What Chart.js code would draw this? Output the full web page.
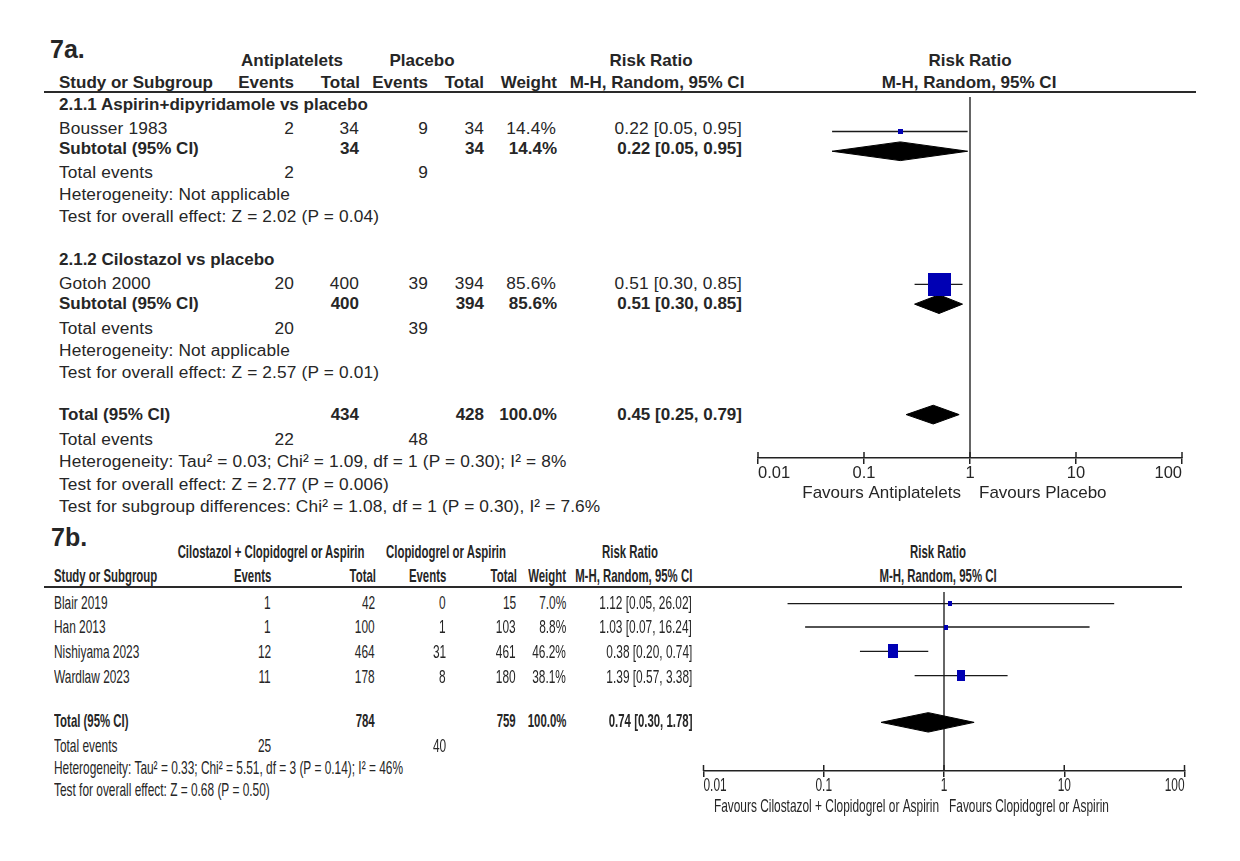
<!DOCTYPE html>
<html>
<head>
<meta charset="utf-8">
<script src="https://cdn.jsdelivr.net/npm/chart.js@4.4.0/dist/chart.umd.min.js"></script>
<style>
body { margin: 0; background: #fff; }
#page { position: relative; width: 1240px; height: 861px; overflow: hidden; font-family: 'Liberation Sans', Arial, sans-serif; color: #262626; }
#page div { position: absolute; white-space: nowrap; }
#page canvas { position: absolute; }
.rule { height: 2px; background: #2a2a2a; }
</style>
</head>
<body>
<div id="page">
  <div class="rule" style="left:44px;top:91px;width:1152px"></div>
  <div class="rule" style="left:44px;top:586px;width:1138px"></div>
  <canvas id="plotA" width="455" height="420" style="left:745px;top:92px"></canvas>
  <canvas id="plotB" width="510" height="240" style="left:690px;top:587px"></canvas>
</div>
<script>
// ---- 7a: antiplatelets vs placebo (one study per subgroup, so subtotal = study) ----
const groupNamesA = ['2.1.1 Aspirin+dipyridamole vs placebo', '2.1.2 Cilostazol vs placebo'];
const studiesA = ['Bousser 1983', 'Gotoh 2000'];
const eventsA = [2, 20];
const totalsA = [34, 400];
const placeboEventsA = [9, 39];
const placeboTotalsA = [34, 394];
const weightsA = [14.4, 85.6];
const rrA = [0.22, 0.51];
const rrLowA = [0.05, 0.30];
const rrHighA = [0.95, 0.85];
const subEffectA = ['Test for overall effect: Z = 2.02 (P = 0.04)', 'Test for overall effect: Z = 2.57 (P = 0.01)'];
const pooledA = [0.45, 0.25, 0.79];      // rr, low, high
const pooledTotalsA = [434, 428];
const pooledEventsA = [22, 48];
const statsA = [
  'Heterogeneity: Tau² = 0.03; Chi² = 1.09, df = 1 (P = 0.30); I² = 8%',
  'Test for overall effect: Z = 2.77 (P = 0.006)',
  'Test for subgroup differences: Chi² = 1.08, df = 1 (P = 0.30), I² = 7.6%'
];

// ---- 7b: cilostazol add-on ----
const studiesB = ['Blair 2019', 'Han 2013', 'Nishiyama 2023', 'Wardlaw 2023'];
const eventsB = [1, 1, 12, 11];
const totalsB = [42, 100, 464, 178];
const ctrlEventsB = [0, 1, 31, 8];
const ctrlTotalsB = [15, 103, 461, 180];
const weightsB = [7.0, 8.8, 46.2, 38.1];
const rrB = [1.12, 1.03, 0.38, 1.39];
const rrLowB = [0.05, 0.07, 0.20, 0.57];
const rrHighB = [26.02, 16.24, 0.74, 3.38];
const pooledB = [0.74, 0.30, 1.78];
const pooledTotalsB = [784, 759];
const pooledEventsB = [25, 40];
const statsB = [
  'Heterogeneity: Tau² = 0.33; Chi² = 5.51, df = 3 (P = 0.14); I² = 46%',
  'Test for overall effect: Z = 0.68 (P = 0.50)'
];

const axisTicks = [0.01, 0.1, 1, 10, 100];
const axisLabels = ['0.01', '0.1', '1', '10', '100'];

const page = document.getElementById('page');
const ci = (r, l, h) => `${r.toFixed(2)} [${l.toFixed(2)}, ${h.toFixed(2)}]`;
const pct = w => w.toFixed(1) + '%';

function txt(str, x, y, o = {}) {
  const d = document.createElement('div');
  const size = o.size || 17, sx = o.sx || 1, al = o.align || 'left';
  d.textContent = str;
  d.style.fontSize = size + 'px';
  d.style.lineHeight = size + 'px';
  d.style.top = (y - size / 2) + 'px';
  if (o.bold) d.style.fontWeight = 'bold';
  if (o.ls) d.style.letterSpacing = o.ls + 'px';
  if (al === 'right') {
    d.style.right = (1240 - x) + 'px';
    d.style.transformOrigin = 'right center';
    d.style.transform = `scaleX(${sx})`;
  } else if (al === 'center') {
    d.style.left = x + 'px';
    d.style.transformOrigin = 'center';
    d.style.transform = `translateX(-50%) scaleX(${sx})`;
  } else {
    d.style.left = x + 'px';
    d.style.transformOrigin = 'left center';
    d.style.transform = `scaleX(${sx})`;
  }
  page.appendChild(d);
}

// ---------- 7a table ----------
const colA = { name: 59, ev: 294, tot: 359, cev: 428, ctot: 484, w: 557, ci: 742 };
const rowsA = { group: [104, 259], study: [129, 284], sub: [148, 303], ev: [173, 329], het: [195, 351], eff: [217, 373],
                total: 414, totEv: 440, stats: [462, 485, 507] };
const N = { size: 17.3, ls: 0.15 };
const B = { bold: true };
const R = { ...N, align: 'right' }, RB = { align: 'right', bold: true };

txt('7a.', 50, 49, { bold: true, size: 25 });
txt('Antiplatelets', 292, 60, { align: 'center', bold: true });
txt('Placebo', 422, 60, { align: 'center', bold: true });
txt('Risk Ratio', 651, 60, { align: 'center', bold: true });
txt('Risk Ratio', 970, 60, { align: 'center', bold: true });
txt('Study or Subgroup', colA.name, 82, B);
txt('Events', colA.ev, 82, RB);
txt('Total', colA.tot + 1, 82, RB);
txt('Events', colA.cev, 82, RB);
txt('Total', colA.ctot, 82, RB);
txt('Weight', colA.w, 82, RB);
txt('M-H, Random, 95% CI', 657, 82, { align: 'center', bold: true });
txt('M-H, Random, 95% CI', 969, 82, { align: 'center', bold: true });

studiesA.forEach((s, i) => {
  txt(groupNamesA[i], colA.name, rowsA.group[i], B);
  let y = rowsA.study[i];
  txt(s, colA.name, y, N);
  txt(String(eventsA[i]), colA.ev, y, R);
  txt(String(totalsA[i]), colA.tot, y, R);
  txt(String(placeboEventsA[i]), colA.cev, y, R);
  txt(String(placeboTotalsA[i]), colA.ctot, y, R);
  txt(pct(weightsA[i]), colA.w - 1, y, R);
  txt(ci(rrA[i], rrLowA[i], rrHighA[i]), colA.ci, y, R);
  y = rowsA.sub[i];
  txt('Subtotal (95% CI)', colA.name, y, B);
  txt(String(totalsA[i]), colA.tot, y, RB);
  txt(String(placeboTotalsA[i]), colA.ctot, y, RB);
  txt(pct(weightsA[i]), colA.w, y, RB);
  txt(ci(rrA[i], rrLowA[i], rrHighA[i]), colA.ci, y, RB);
  y = rowsA.ev[i];
  txt('Total events', colA.name, y, N);
  txt(String(eventsA[i]), colA.ev, y, R);
  txt(String(placeboEventsA[i]), colA.cev, y, R);
  txt('Heterogeneity: Not applicable', colA.name, rowsA.het[i], N);
  txt(subEffectA[i], colA.name, rowsA.eff[i], N);
});
txt('Total (95% CI)', colA.name, rowsA.total, B);
txt(String(pooledTotalsA[0]), colA.tot, rowsA.total, RB);
txt(String(pooledTotalsA[1]), colA.ctot, rowsA.total, RB);
txt(pct(100), colA.w, rowsA.total, RB);
txt(ci(pooledA[0], pooledA[1], pooledA[2]), colA.ci, rowsA.total, RB);
txt('Total events', colA.name, rowsA.totEv, N);
txt(String(pooledEventsA[0]), colA.ev, rowsA.totEv, R);
txt(String(pooledEventsA[1]), colA.cev, rowsA.totEv, R);
statsA.forEach((s, i) => txt(s, colA.name, rowsA.stats[i], N));

// ---------- 7b table (narrow type) ----------
const nb = { size: 19, sx: 0.626 };
const nbb = { size: 19, sx: 0.6, bold: true };
const colB = { name: 54, ev: 271, tot: 375, cev: 446, ctot: 516, w: 566, ci: 692 };
const rowsB = { study: [602, 626, 651, 676], total: 720, totEv: 745, stats: [767, 789] };

txt('7b.', 51, 537, { bold: true, size: 25 });
txt('Cilostazol + Clopidogrel or Aspirin', 271, 551, { ...nbb, align: 'center' });
txt('Clopidogrel or Aspirin', 446, 551, { ...nbb, align: 'center' });
txt('Risk Ratio', 630, 551, { ...nbb, align: 'center' });
txt('Risk Ratio', 938, 551, { ...nbb, align: 'center' });
txt('Study or Subgroup', colB.name, 575, nbb);
txt('Events', colB.ev, 575, { ...nbb, align: 'right' });
txt('Total', colB.tot + 1, 575, { ...nbb, align: 'right' });
txt('Events', colB.cev, 575, { ...nbb, align: 'right' });
txt('Total', colB.ctot + 1, 575, { ...nbb, align: 'right' });
txt('Weight', colB.w, 575, { ...nbb, align: 'right' });
txt('M-H, Random, 95% CI', colB.ci, 575, { ...nbb, align: 'right' });
txt('M-H, Random, 95% CI', 938, 575, { ...nbb, align: 'center' });

const nbr = { ...nb, align: 'right' };
studiesB.forEach((s, i) => {
  const y = rowsB.study[i];
  txt(s, colB.name, y, nb);
  txt(String(eventsB[i]), colB.ev, y, nbr);
  txt(String(totalsB[i]), colB.tot, y, nbr);
  txt(String(ctrlEventsB[i]), colB.cev, y, nbr);
  txt(String(ctrlTotalsB[i]), colB.ctot, y, nbr);
  txt(pct(weightsB[i]), colB.w, y, nbr);
  txt(ci(rrB[i], rrLowB[i], rrHighB[i]), colB.ci, y, nbr);
});
const nbbr = { ...nbb, align: 'right' };
txt('Total (95% CI)', colB.name, rowsB.total, nbb);
txt(String(pooledTotalsB[0]), colB.tot, rowsB.total, nbbr);
txt(String(pooledTotalsB[1]), colB.ctot, rowsB.total, nbbr);
txt(pct(100), colB.w, rowsB.total, nbbr);
txt(ci(pooledB[0], pooledB[1], pooledB[2]), colB.ci, rowsB.total, nbbr);
txt('Total events', colB.name, rowsB.totEv, nb);
txt(String(pooledEventsB[0]), colB.ev, rowsB.totEv, nbr);
txt(String(pooledEventsB[1]), colB.cev, rowsB.totEv, nbr);
statsB.forEach((s, i) => txt(s, colB.name, rowsB.stats[i], nb));

// ---------- plots ----------
function box(w, h) {
  const c = document.createElement('canvas');
  c.width = Math.round(w);
  c.height = Math.round(h);
  const g = c.getContext('2d');
  g.fillStyle = '#0000b4';
  g.fillRect(0, 0, c.width, c.height);
  return c;
}

// axis tick labels, upward tick halves and the "Favours" captions
const forestAxis = {
  id: 'forestAxis',
  afterDraw(chart, args, opts) {
    const s = chart.scales.x, ctx = chart.ctx, yAx = chart.chartArea.bottom;
    ctx.save();
    ctx.strokeStyle = '#222';
    ctx.lineWidth = 1.5;
    s.ticks.forEach(t => {
      const px = s.getPixelForValue(t.value);
      ctx.beginPath();
      ctx.moveTo(px, yAx - 6);
      ctx.lineTo(px, yAx);
      ctx.stroke();
    });
    ctx.fillStyle = '#262626';
    ctx.textBaseline = 'middle';
    const put = (str, x, y, align, font) => {
      ctx.save();
      ctx.translate(x, y);
      ctx.scale(opts.sx, 1);
      ctx.font = font;
      ctx.textAlign = align;
      ctx.fillText(str, 0, 0);
      ctx.restore();
    };
    const last = s.ticks.length - 1;
    s.ticks.forEach((t, i) => put(axisLabels[i], s.getPixelForValue(t.value), yAx + opts.labelDy,
      i === 0 ? 'left' : i === last ? 'right' : 'center', opts.tickFont));
    const p1 = s.getPixelForValue(1);
    put(opts.favours[0], p1 - opts.gap, yAx + opts.favDy, 'right', opts.font);
    put(opts.favours[1], p1 + opts.gap, yAx + opts.favDy, 'left', opts.font);
    ctx.restore();
  }
};

function forest(id, o) {
  const ds = [];
  ds.push({ data: o.rr.map((v, i) => ({ x: v, y: o.rowY[i] })), pointStyle: o.boxes, pointRadius: 3, showLine: false });
  o.diamonds.forEach(d => ds.push({
    data: [{ x: d[1], y: d[3] }, { x: d[0], y: d[3] - o.dh }, { x: d[2], y: d[3] }, { x: d[0], y: d[3] + o.dh }, { x: d[1], y: d[3] }],
    showLine: true, fill: 'shape', backgroundColor: '#000', borderColor: '#000', borderWidth: 1, pointRadius: 0, tension: 0
  }));
  o.rr.forEach((v, i) => ds.push({
    data: [{ x: o.lo[i], y: o.rowY[i] }, { x: o.hi[i], y: o.rowY[i] }],
    showLine: true, borderColor: '#1a1a1a', borderWidth: 1.4, pointRadius: 0
  }));
  ds.push({ data: [{ x: 1, y: o.yTop }, { x: 1, y: o.yAxis }], showLine: true, borderColor: '#333', borderWidth: 1.5, pointRadius: 0 });

  return new Chart(document.getElementById(id), {
    type: 'scatter',
    data: { datasets: ds },
    options: {
      responsive: false,
      animation: false,
      events: [],
      layout: { padding: { left: o.padL, right: o.padR, top: 0, bottom: 0 } },
      plugins: { legend: { display: false }, tooltip: { enabled: false }, forestAxis: o.axis },
      scales: {
        x: {
          type: 'logarithmic', min: 0.01, max: 100, position: 'bottom',
          afterBuildTicks: s => { s.ticks = axisTicks.map(v => ({ value: v })); },
          afterFit: s => { s.height = o.scaleH; s.paddingLeft = 0; s.paddingRight = 0; },
          ticks: { display: false },
          grid: { drawOnChartArea: false, drawTicks: true, tickLength: 6, color: '#222', lineWidth: 1.5 },
          border: { display: true, color: '#222', width: 1.5 }
        },
        y: { type: 'linear', min: o.yTop, max: o.yAxis, reverse: true, display: false }
      }
    },
    plugins: [forestAxis]
  });
}

forest('plotA', {
  rr: rrA, lo: rrLowA, hi: rrHighA,
  rowY: rowsA.study.map(y => y - 2),
  boxes: weightsA.map(w => { const s = Math.max(5, w * 0.27); return box(s, s); }),
  diamonds: rrA.map((r, i) => [r, rrLowA[i], rrHighA[i], rowsA.sub[i] - 1]).concat([[...pooledA, rowsA.total]]),
  dh: 9.5, yTop: 92, yAxis: 458, padL: 13, padR: 18, scaleH: 54,
  axis: { sx: 1, labelDy: 15, favDy: 35, gap: 9, font: '17px "Liberation Sans", Arial', tickFont: '16.5px "Liberation Sans", Arial',
          favours: ['Favours Antiplatelets', 'Favours Placebo'] }
});

forest('plotB', {
  rr: rrB, lo: rrLowB, hi: rrHighB,
  rowY: rowsB.study.map(y => y - 3),
  boxes: weightsB.map(w => { const h = Math.max(5, w * 0.3); return box(Math.max(4, h * 0.7), h); }),
  diamonds: [[...pooledB, rowsB.total + 1]],
  dh: 10, yTop: 587, yAxis: 771, padL: 13.5, padR: 15.5, scaleH: 56,
  axis: { sx: 0.626, labelDy: 15, favDy: 36, gap: 5, font: '19px "Liberation Sans", Arial', tickFont: '19px "Liberation Sans", Arial',
          favours: ['Favours Cilostazol + Clopidogrel or Aspirin', 'Favours Clopidogrel or Aspirin'] }
});
</script>
</body>
</html>
